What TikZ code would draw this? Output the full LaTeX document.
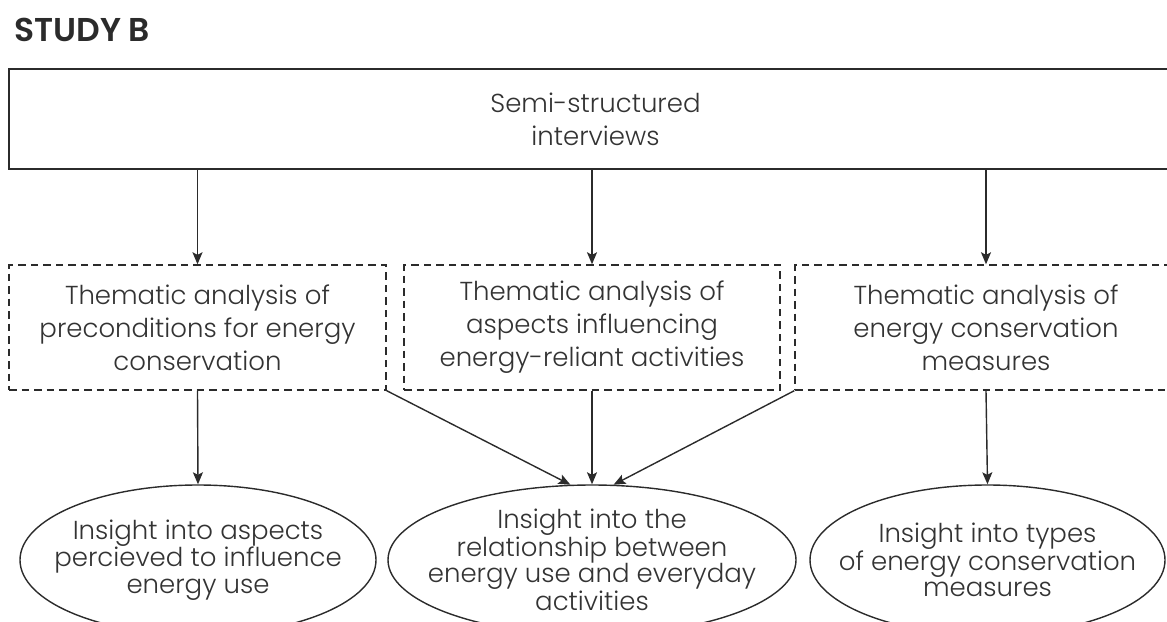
\documentclass[tikz,border=0pt]{standalone}
\usepackage{fontspec}
\setmainfont{Poppins}[UprightFont=* Light, BoldFont=* SemiBold]
\usetikzlibrary{shapes.geometric,arrows.meta}

\definecolor{ink}{HTML}{2B2B2B}
\definecolor{txt}{HTML}{333333}

\tikzset{
  boxtext/.style={font=\fontsize{26}{33}\selectfont, text=txt, align=center},
  ovaltext/.style={font=\fontsize{26}{26.5}\selectfont, text=txt, align=center,
                   inner sep=0pt},
  solidbox/.style={draw=ink, line width=1.6pt, rectangle, inner sep=0pt, boxtext},
  dashbox/.style={draw=ink, line width=1.4pt, dash pattern=on 7.5pt off 5pt,
                  rectangle, inner sep=0pt, minimum height=125pt, boxtext},
  oval/.style={draw=ink, line width=1.4pt, ellipse, inner sep=0pt,
               minimum height=150pt},
  arr/.style={draw=ink, line width=1.4pt,
              -{Stealth[length=12pt, width=10pt, inset=2.5pt]}},
}

\begin{document}
\begin{tikzpicture}[x=1pt, y=-1pt]
  \useasboundingbox (0,0) rectangle (1167,621);
  \clip (0,0) rectangle (1167,621);

  % heading
  \node[anchor=base west, inner sep=0pt, text=ink,
        font=\bfseries\fontsize{33}{33}\selectfont] (title) at (14,41) {STUDY B};

  % data collection
  \node[solidbox, minimum width=1173pt, minimum height=100pt] (top) at (595.5,119)
    {Semi-structured\\interviews};

  % analyses
  \node[dashbox, minimum width=377pt] (b1) at (197.5,327.5)
    {Thematic analysis of\\preconditions for energy\\conservation};
  \node[dashbox, minimum width=376pt] (b2) at (592,327.5)
    {Thematic analysis of\\aspects influencing\\energy-reliant activities};
  \node[dashbox, minimum width=382pt] (b3) at (986,327.5)
    {Thematic analysis of\\energy conservation\\measures};

  % outcomes: fixed-size ellipses with their captions set on top
  \node[oval, minimum width=356pt] (e1) at (198,560) {};
  \node[oval, minimum width=408pt] (e2) at (592,560) {};
  \node[oval, minimum width=355pt] (e3) at (987.5,560) {};
  \node[ovaltext] (e1t) at (e1.center)
    {Insight into aspects\\percieved to influence\\energy use};
  \node[ovaltext] (e2t) at (e2.center)
    {Insight into the\\relationship between\\energy use and everyday\\activities};
  \node[ovaltext] (e3t) at (e3.center)
    {Insight into types\\of energy conservation\\measures};

  % connectors
  \draw[arr] (top.south -| b1.north) -- (b1.north);
  \draw[arr] (top.south -| b2.north) -- (b2.north);
  \draw[arr] (top.south -| b3.north) -- (b3.north);

  \draw[arr] (b1.south) -- (e1.north);
  \draw[arr] (b1.south east) -- (e2.106);
  \draw[arr] (b2.south) -- (e2.north);
  \draw[arr] (b3.south west) -- (e2.74);
  \draw[arr] (b3.south) -- (e3.north);
\end{tikzpicture}
\end{document}
